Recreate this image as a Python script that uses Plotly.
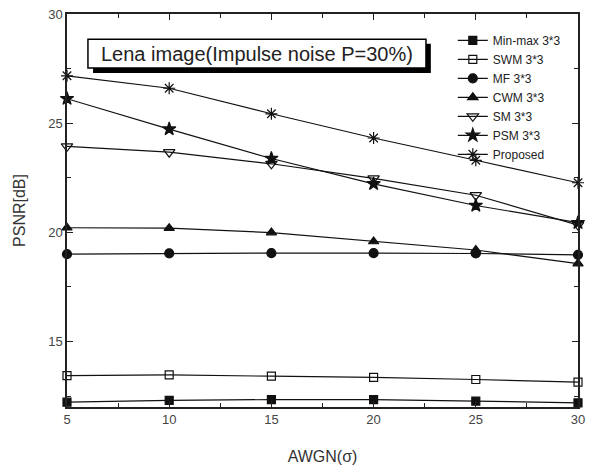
import plotly.graph_objects as go

x_vals = [5, 10, 15, 20, 25, 30]
minmax = [12.22, 12.30, 12.34, 12.34, 12.27, 12.19]
swm = [13.44, 13.47, 13.41, 13.36, 13.26, 13.14]
mf = [19.00, 19.04, 19.05, 19.05, 19.03, 18.97]
cwm = [20.21, 20.19, 19.99, 19.58, 19.19, 18.57]
sm = [23.94, 23.67, 23.14, 22.47, 21.70, 20.33]
psm = [26.12, 24.73, 23.38, 22.22, 21.23, 20.44]
proposed = [27.17, 26.60, 25.43, 24.32, 23.30, 22.27]

names = ["Min-max 3*3", "SWM 3*3", "MF 3*3", "CWM 3*3", "SM 3*3", "PSM 3*3", "Proposed"]
series = [minmax, swm, mf, cwm, sm, psm, proposed]
symbols = ["square", "square-open", "circle", "triangle-up", "triangle-down-open", "star", "asterisk-open"]
sizes = [8, 8, 9, 9, 10, 10, 10]

fig = go.Figure()
for name, ys, sym, sz in zip(names, series, symbols, sizes):
    fig.add_trace(go.Scatter(
        x=x_vals, y=ys, name=name, mode="lines+markers",
        line=dict(color="#111", width=1.2),
        marker=dict(symbol=sym, size=sz, color="#111",
                    line=dict(color="#111", width=1.2)),
        cliponaxis=False,
    ))

FONT = "Liberation Sans, Arial"
axis_common = dict(
    showline=True, linecolor="#222", linewidth=1.5, mirror="allticks",
    ticks="inside", ticklen=6, tickwidth=1.2, tickcolor="#222",
    showgrid=False, zeroline=False, automargin=False,
    tickfont=dict(family=FONT, size=13, color="#444"),
    minor=dict(ticks="inside", ticklen=4, tickwidth=1, tickcolor="#222"),
)

fig.update_xaxes(range=[5, 30], tickvals=[5, 10, 15, 20, 25, 30],
                 minor_tickvals=[7.5, 12.5, 17.5, 22.5, 27.5],
                 title=dict(text="AWGN(σ)", font=dict(family=FONT, size=16, color="#333"), standoff=24),
                 **axis_common)
fig.update_yaxes(range=[12, 30], tickvals=[15, 20, 25, 30],
                 minor_tickvals=[12.5, 17.5, 22.5, 27.5],
                 title=dict(text="PSNR[dB]", font=dict(family=FONT, size=16, color="#333"), standoff=19),
                 **axis_common)

# title box with drop shadow
fig.add_shape(type="rect", xref="paper", yref="paper",
              x0=0.051, x1=0.712, y0=0.850, y1=0.924,
              fillcolor="black", line=dict(width=0), layer="above")
fig.add_shape(type="rect", xref="paper", yref="paper",
              x0=0.041, x1=0.7025, y0=0.8626, y1=0.936,
              fillcolor="white", line=dict(color="black", width=1.5), layer="above")
fig.add_annotation(text="Lena image(Impulse noise P=30%)", xref="paper", yref="paper",
                   x=(0.041 + 0.7025) / 2, y=(0.8626 + 0.936) / 2,
                   showarrow=False, xanchor="center", yanchor="middle",
                   font=dict(family=FONT, size=20, color="#222"))

fig.update_layout(
    width=590, height=475,
    margin=dict(l=67, r=12, t=14, b=68),
    paper_bgcolor="white", plot_bgcolor="white",
    showlegend=True,
    legend=dict(x=0.755, y=0.97, xanchor="left", yanchor="top",
                bgcolor="rgba(0,0,0,0)", borderwidth=0,
                font=dict(family=FONT, size=12, color="#222"),
                tracegroupgap=0, itemwidth=30),
)

fig.write_html("out.html")
